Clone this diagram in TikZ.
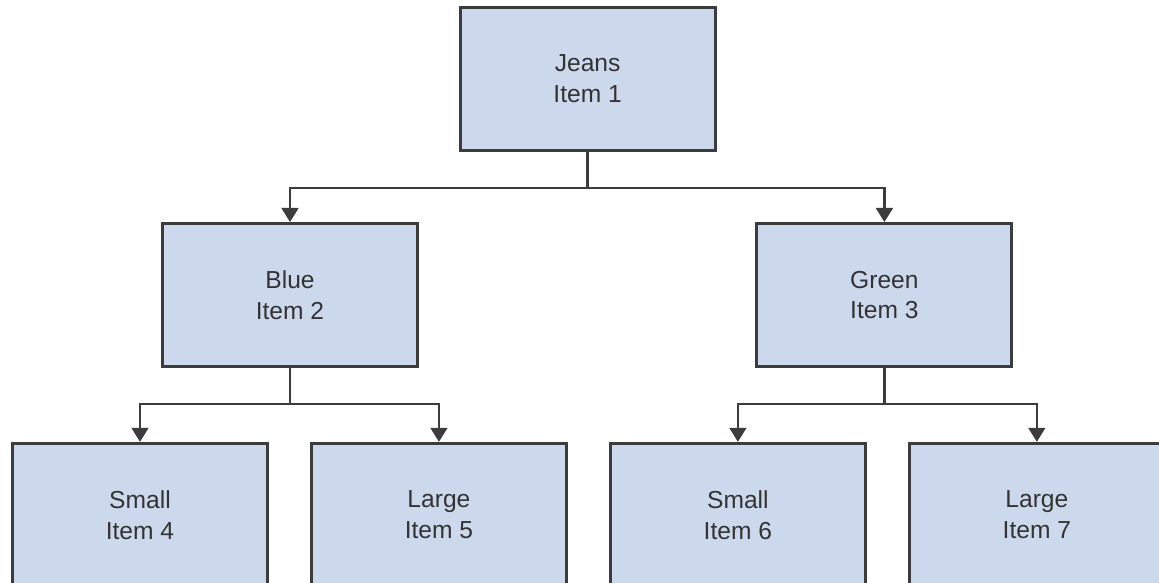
\documentclass[tikz,border=0pt]{standalone}
\usepackage{fontspec}
\setmainfont{Liberation Sans}
\usepackage{xcolor}
\usetikzlibrary{positioning, arrows.meta, calc}

\definecolor{boxfill}{HTML}{CCD9EC}
\definecolor{boxline}{HTML}{3C3C3C}
\definecolor{boxtext}{HTML}{333333}

\begin{document}
\begin{tikzpicture}[
			node distance=1.025cm,
			% --- Styles ---
			itembox/.style={
				rectangle, draw=boxline, line width=2.1pt, fill=boxfill,
				minimum width=6.375cm, minimum height=3.575cm, align=center,
				text=boxtext, font=\fontsize{17.5}{22}\selectfont
			},
			line/.style={
				draw=boxline, line width=1.6pt, -{Triangle[width=12pt, length=10pt]}
			}
			]
			
			% --- Canvas ---
			\useasboundingbox (0,0) rectangle (28.975,-14.575);
			
			% --- 1. Root ---
			\node [itembox] (jeans) at (14.69,-1.975) {Jeans\\Item 1};
			
			% --- 2. Colours ---
			\node [itembox] (blue) at (7.25,-7.375) {Blue\\Item 2};
			\node [itembox] (green) at (22.11,-7.375) {Green\\Item 3};
			
			% --- 3. Sizes ---
			\node [itembox] (small_blue) at (3.5,-12.87) {Small\\Item 4};
			\node [itembox, right=of small_blue] (large_blue) {Large\\Item 5};
			\node [itembox, right=of large_blue] (small_green) {Small\\Item 6};
			\node [itembox, right=of small_green] (large_green) {Large\\Item 7};
			
			% --- 4. Connections ---
			\draw [line] (jeans.south) -- ++(0,-0.9) -| (blue.north);
			\draw [line] (jeans.south) -- ++(0,-0.9) -| (green.north);
			
			\draw [line] (blue.south) -- ++(0,-0.9) -| (small_blue.north);
			\draw [line] (blue.south) -- ++(0,-0.9) -| (large_blue.north);
			
			\draw [line] (green.south) -- ++(0,-0.9) -| (small_green.north);
			\draw [line] (green.south) -- ++(0,-0.9) -| (large_green.north);
			
		\end{tikzpicture}
\end{document}
